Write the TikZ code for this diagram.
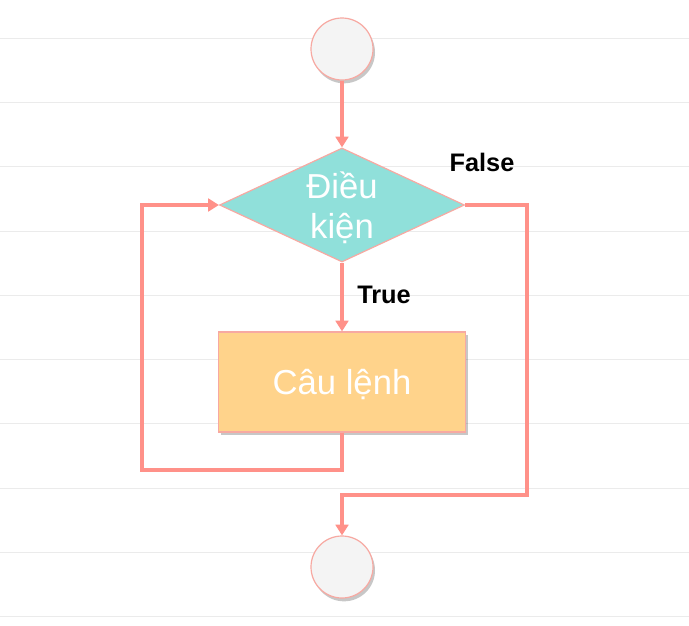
\documentclass[tikz,border=0pt]{standalone}
\usepackage{fontspec}
\setmainfont{Liberation Sans}
\usetikzlibrary{shapes.geometric,arrows.meta,shadows}
\definecolor{linec}{HTML}{FF9189}
\definecolor{edgec}{HTML}{F7A9A2}
\definecolor{diafill}{HTML}{90E0DA}
\definecolor{boxfill}{HTML}{FFD38B}
\definecolor{circfill}{HTML}{F4F4F4}
\definecolor{gridc}{HTML}{EBEBEB}
\begin{document}
\begin{tikzpicture}[x=0.75pt,y=-0.75pt,
  gridline/.style={draw=gridc, line width=0.6pt},
  shad/.style={drop shadow={shadow xshift=1.5pt, shadow yshift=-2.5pt, fill=black, opacity=0.22}},
  term/.style={circle, draw=edgec, line width=0.9pt, fill=circfill, minimum size=46.5pt, inner sep=0pt, shad},
  dia/.style={diamond, draw=edgec, line width=0.9pt, fill=diafill, minimum width=183.75pt, minimum height=85.5pt, inner sep=0pt, aspect=2.15},
  dtext/.style={text=white, font=\fontsize{26pt}{30pt}\selectfont, align=center, inner sep=0pt},
  stmt/.style={rectangle, draw=edgec, line width=0.9pt, fill=boxfill, minimum width=185.25pt, minimum height=75pt, inner sep=0pt, text=white, text depth=0pt, font=\fontsize{26pt}{30pt}\selectfont, shad},
  conn/.style={draw=linec, line width=2.8pt, line join=miter},
  arr/.style={conn, -{Triangle[length=8pt,width=9.5pt]}},
  lbl/.style={font=\bfseries\fontsize{19pt}{22pt}\selectfont, text=black, inner sep=0pt}
]
\useasboundingbox (0,0) rectangle (689,625);
\fill[white] (0,0) rectangle (689,625);
\foreach \yy in {38,102,166,231,295,359,423,488,552,616}
  \draw[gridline] (0,\yy) -- (689,\yy);

\node[term] (s) at (342,49) {};
\node[dia] (d) at (342,205) {};
\node[dtext] (dt) at (342,208) {Điều\\kiện};
\node[stmt] (b) at (342,382) {Câu lệnh};
\node[term] (e) at (342,567) {};

\coordinate (fr) at (527,495);
\coordinate (ll) at (142,470);

\draw[arr] (s) -- (d.north);
\draw[arr] (d.south) -- (b.north);
\draw[arr] (d.east) -| (fr) -| (e.north);
\draw[arr] (b.south) |- (ll) |- (d.west);

\node[lbl] (tl) at (384,295) {True};
\node[lbl] (fl) at (482,162) {False};
\end{tikzpicture}
\end{document}
